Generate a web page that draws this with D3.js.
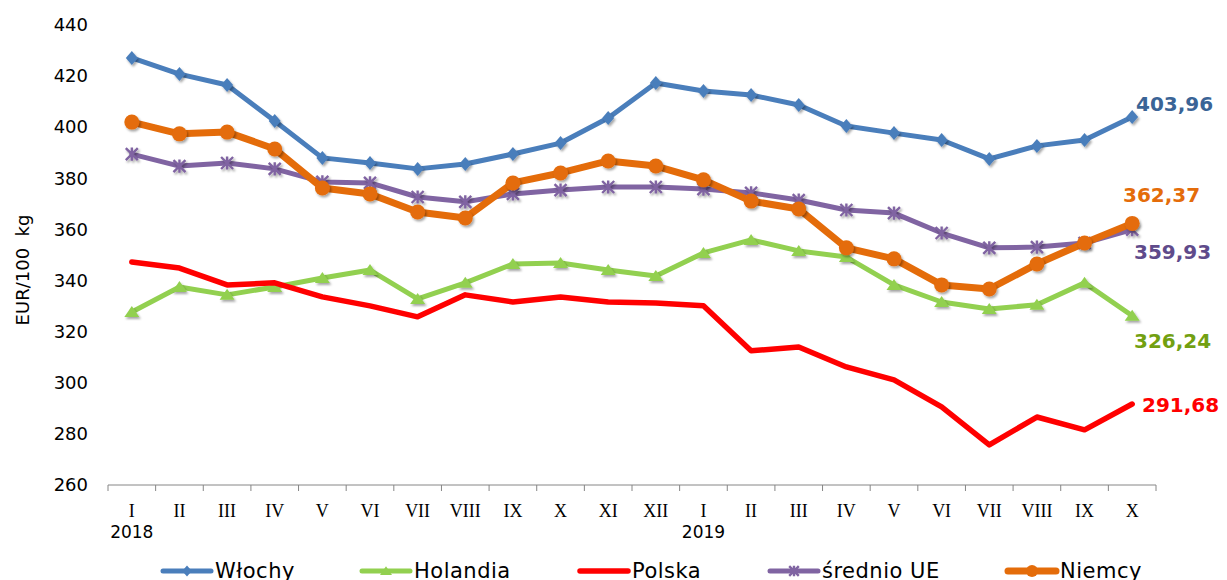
<!DOCTYPE html>
<html>
<head>
<meta charset="utf-8">
<script src="https://cdn.jsdelivr.net/npm/d3@7"></script>
<style>
  body { margin: 0; background: #fff; }
  svg { display: block; }
</style>
</head>
<body>
<svg id="chart" width="1227" height="580"></svg>
<script>
const months = ['I', 'II', 'III', 'IV', 'V', 'VI', 'VII', 'VIII', 'IX', 'X', 'XI', 'XII',
                'I', 'II', 'III', 'IV', 'V', 'VI', 'VII', 'VIII', 'IX', 'X'];
const years = [{ idx: 0, label: '2018' }, { idx: 12, label: '2019' }];

const wlochy   = [427.1, 420.8, 416.5, 402.4, 388.0, 386.0, 383.7, 385.6, 389.5, 393.8, 403.6, 417.3,
                  414.2, 412.6, 408.7, 400.5, 397.7, 395.0, 387.6, 392.7, 395.0, 403.96];
const holandia = [327.7, 337.5, 334.4, 337.5, 341.0, 344.1, 332.8, 339.1, 346.5, 346.9, 344.1, 341.8,
                  350.8, 355.9, 351.6, 349.2, 338.3, 331.6, 328.9, 330.5, 339.1, 326.24];
const polska   = [347.3, 344.9, 338.3, 339.1, 333.6, 330.1, 325.8, 334.4, 331.6, 333.6, 331.6, 331.2,
                  330.1, 312.5, 314.0, 306.2, 301.1, 290.6, 275.7, 286.6, 281.6, 291.68];
const srednioUE = [389.5, 384.8, 386.0, 383.7, 378.6, 378.2, 372.7, 370.8, 373.9, 375.4, 376.6, 376.6,
                   375.8, 374.3, 371.5, 367.6, 366.4, 358.6, 352.8, 353.1, 354.7, 359.93];
const niemcy   = [402.0, 397.4, 398.1, 391.5, 376.2, 373.9, 366.8, 364.5, 378.2, 382.1, 386.8, 384.8,
                  379.4, 371.1, 368.0, 352.8, 348.5, 338.3, 336.7, 346.5, 354.7, 362.37];
const yTicks = [260, 280, 300, 320, 340, 360, 380, 400, 420, 440];

const series = [
  { name: 'Włochy', values: wlochy, color: '#4a7ebb', width: 5, marker: 'diamond',
    label: '403,96', labelColor: '#3a6496', lx: 1136, ly: 111 },
  { name: 'Holandia', values: holandia, color: '#92d050', width: 5, marker: 'triangle',
    label: '326,24', labelColor: '#72a011', lx: 1134, ly: 348 },
  { name: 'Polska', values: polska, color: '#ff0000', width: 5.5, marker: 'none',
    label: '291,68', labelColor: '#ff0000', lx: 1142, ly: 412 },
  { name: 'średnio UE', values: srednioUE, color: '#8064a2', width: 5, marker: 'star',
    label: '359,93', labelColor: '#5f4b8b', lx: 1134, ly: 259 },
  { name: 'Niemcy', values: niemcy, color: '#e46c0a', width: 7, marker: 'circle',
    label: '362,37', labelColor: '#e46c0a', lx: 1123, ly: 202 }
];

const svg = d3.select('#chart');
const plotLeft = 108, plotRight = 1156, plotTop = 25, plotBottom = 485;

const defs = svg.append('defs');
const shadow = defs.append('filter').attr('id', 'shadow')
  .attr('x', '-50%').attr('y', '-50%').attr('width', '200%').attr('height', '200%');
shadow.append('feDropShadow').attr('dx', 1.5).attr('dy', 2).attr('stdDeviation', 1.2)
  .attr('flood-color', '#000').attr('flood-opacity', 0.35);

const x = d3.scaleBand().domain(d3.range(months.length)).range([plotLeft, plotRight]);
const cx = i => x(i) + x.bandwidth() / 2;
const y = d3.scaleLinear().domain([260, 440]).range([plotBottom, plotTop]);

// y axis (labels only)
const yAxis = svg.append('g')
  .attr('transform', `translate(${plotLeft},0)`)
  .call(d3.axisLeft(y).tickValues(yTicks).tickSize(0).tickPadding(20));
yAxis.select('.domain').remove();
yAxis.selectAll('text')
  .attr('font-family', 'DejaVu Sans, Verdana, sans-serif')
  .attr('font-size', 18).attr('fill', '#000');

svg.append('text')
  .attr('transform', `translate(29,270) rotate(-90)`)
  .attr('text-anchor', 'middle')
  .attr('font-family', 'DejaVu Sans, Verdana, sans-serif')
  .attr('font-size', 18)
  .attr('xml:space', 'preserve')
  .text('EUR/100  kg');

// x axis
svg.append('line')
  .attr('x1', plotLeft).attr('x2', plotRight).attr('y1', plotBottom).attr('y2', plotBottom)
  .attr('stroke', '#868686').attr('stroke-width', 1);
svg.append('g').selectAll('line')
  .data(d3.range(months.length + 1))
  .join('line')
  .attr('x1', i => plotLeft + i * x.step()).attr('x2', i => plotLeft + i * x.step())
  .attr('y1', plotBottom).attr('y2', plotBottom + 6)
  .attr('stroke', '#868686');
svg.append('g').selectAll('text')
  .data(months)
  .join('text')
  .attr('x', (d, i) => cx(i)).attr('y', 517)
  .attr('text-anchor', 'middle')
  .attr('font-family', 'Liberation Serif, Times New Roman, serif')
  .attr('font-size', 18)
  .text(d => d);
svg.append('g').selectAll('text')
  .data(years)
  .join('text')
  .attr('x', d => cx(d.idx)).attr('y', 538)
  .attr('text-anchor', 'middle')
  .attr('font-family', 'DejaVu Sans, Verdana, sans-serif')
  .attr('font-size', 17)
  .text(d => d.label);

function drawMarker(g, type, color, px, py, s) {
  if (type === 'diamond') {
    g.append('path')
      .attr('d', `M${px},${py - 7 * s}L${px + 6 * s},${py}L${px},${py + 7 * s}L${px - 6 * s},${py}Z`)
      .attr('fill', color);
  } else if (type === 'triangle') {
    g.append('path')
      .attr('d', `M${px},${py - 6 * s}L${px + 7.5 * s},${py + 5 * s}L${px - 7.5 * s},${py + 5 * s}Z`)
      .attr('fill', color);
  } else if (type === 'circle') {
    g.append('circle').attr('cx', px).attr('cy', py).attr('r', 7.5 * s).attr('fill', color);
  } else if (type === 'star') {
    const r = 6 * s;
    g.append('path')
      .attr('d', `M${px - r},${py - r}L${px + r},${py + r}M${px - r},${py + r}L${px + r},${py - r}` +
                 `M${px},${py - r * 1.1}L${px},${py + r * 1.1}`)
      .attr('stroke', color).attr('stroke-width', 2.4).attr('fill', 'none');
  }
}

const line = d3.line().x((d, i) => cx(i)).y(d => y(d));

series.forEach(s => {
  const g = svg.append('g');
  g.append('path')
    .attr('d', line(s.values))
    .attr('fill', 'none')
    .attr('stroke', s.color)
    .attr('stroke-width', s.width)
    .attr('stroke-linejoin', 'round')
    .attr('stroke-linecap', 'round');
  const mg = g.append('g').attr('filter', 'url(#shadow)');
  s.values.forEach((v, i) => {
    drawMarker(mg, s.marker, s.color, cx(i), y(v), 1);
  });
});

// end labels
svg.append('g').selectAll('text')
  .data(series)
  .join('text')
  .attr('x', d => d.lx).attr('y', d => d.ly)
  .attr('font-family', 'DejaVu Sans, Verdana, sans-serif')
  .attr('font-weight', 'bold')
  .attr('font-size', 20)
  .attr('fill', d => d.labelColor)
  .text(d => d.label);

// legend
const legendX = [163, 362, 580, 770, 1008];
const legend = svg.append('g');
series.forEach((s, i) => {
  const lg = legend.append('g');
  const x0 = legendX[i];
  lg.append('line')
    .attr('x1', x0).attr('x2', x0 + 48).attr('y1', 571).attr('y2', 571)
    .attr('stroke', s.color).attr('stroke-width', s.width)
    .attr('stroke-linecap', 'round');
  drawMarker(lg, s.marker, s.color, x0 + 24, 571, 0.8);
  lg.append('text')
    .attr('x', x0 + 52).attr('y', 578)
    .attr('font-family', 'DejaVu Sans, Verdana, sans-serif')
    .attr('font-size', 21)
    .attr('letter-spacing', 0.5)
    .text(s.name);
});
</script>
</body>
</html>
